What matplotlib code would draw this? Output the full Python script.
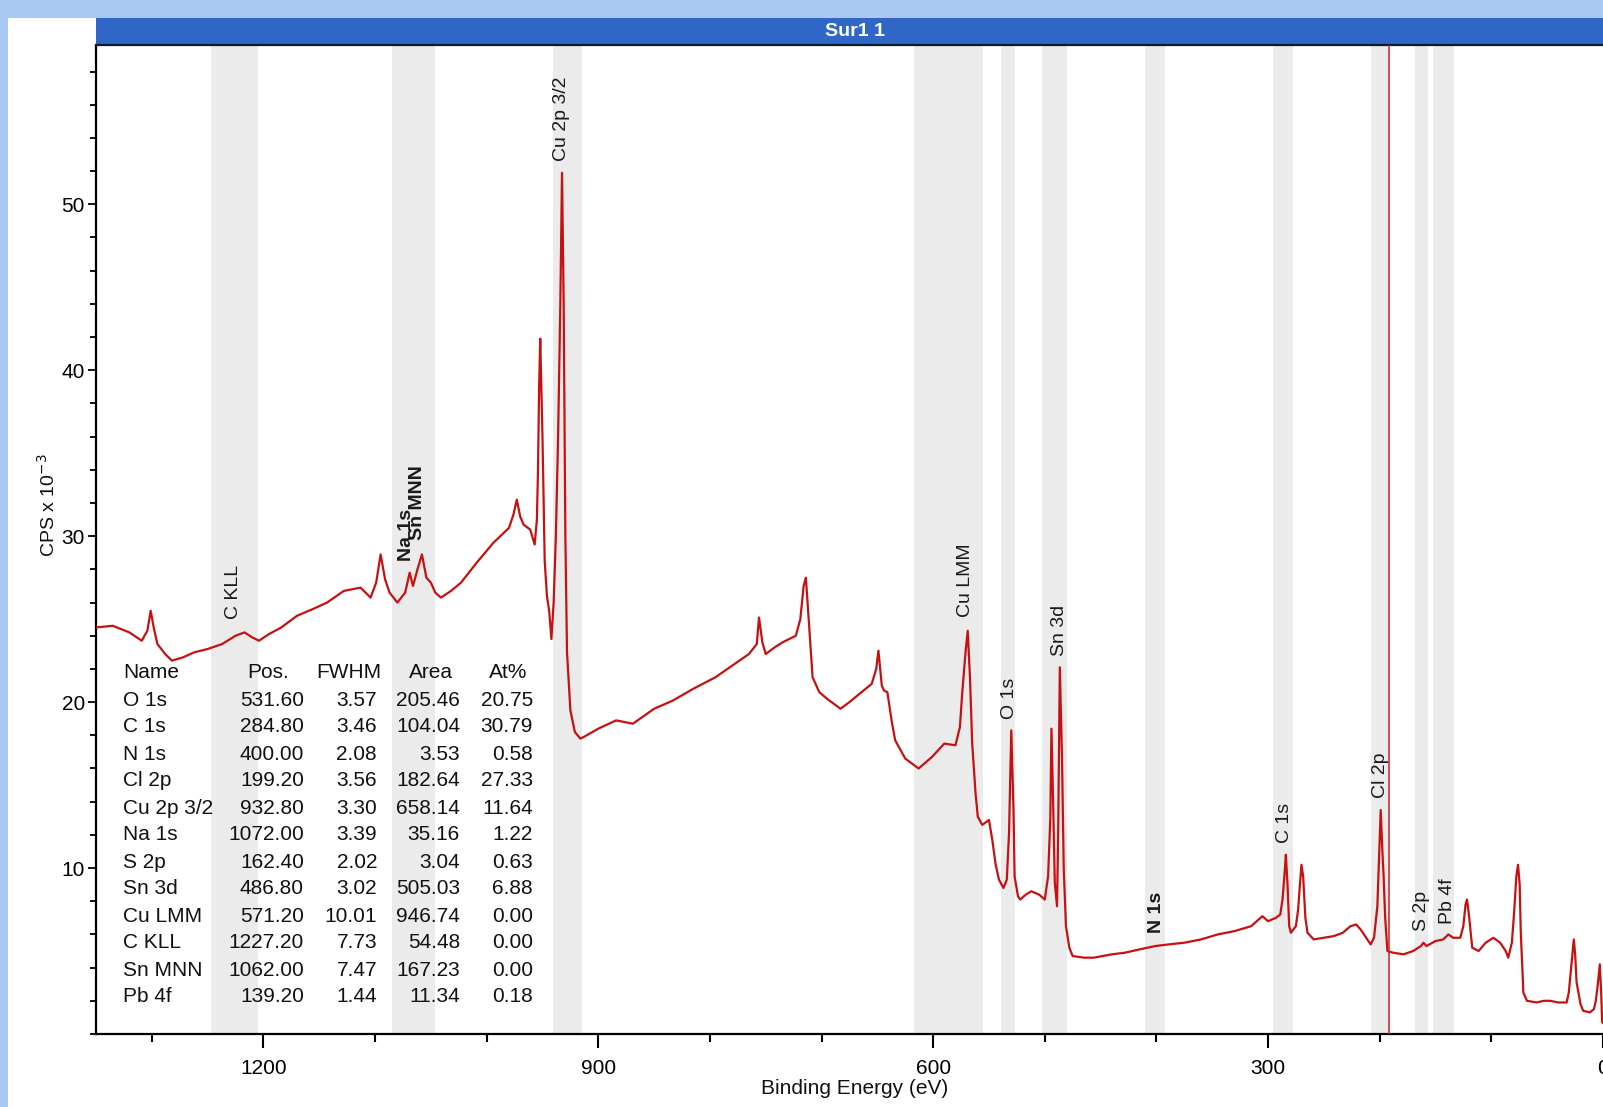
import matplotlib
matplotlib.use("Agg")
import matplotlib.pyplot as plt
from matplotlib.patches import Rectangle
from matplotlib.ticker import MultipleLocator, FixedLocator

# ------------------------------------------------------------
# Data
# ------------------------------------------------------------
be_ev = [1350, 1335, 1320, 1309, 1304, 1301, 1298, 1295, 1288, 1282, 1272, 1262, 1250,
         1237, 1225, 1217, 1210, 1204, 1195, 1184, 1170, 1156, 1143, 1128, 1113, 1104,
         1099, 1095, 1091, 1087, 1080, 1073, 1069, 1066, 1062, 1058, 1054, 1050, 1046,
         1041, 1032, 1023, 1009, 994, 980, 976, 973, 970, 967, 961, 957, 955, 954, 953,
         952, 950, 948, 946, 944, 942, 940, 938, 936, 934, 932.5, 931, 929.5, 928, 925,
         921, 916, 913, 900, 884, 869, 850, 833, 815, 795, 780, 765, 758, 756, 753, 750,
         742, 735, 723, 719, 716, 714, 711, 708, 702, 695, 683, 675, 666, 655, 651, 649,
         646, 644, 641, 637, 634, 625, 613, 601, 590, 580, 576, 574, 571, 569, 567, 565,
         562, 560, 556, 550, 547, 544, 541, 537, 534, 532, 530, 528, 527, 524, 522, 517,
         512, 505, 500, 497, 495, 494, 492.5, 491, 489, 488, 486.5, 484.5, 483, 481, 478,
         475, 465, 456, 440, 428, 415, 401, 389, 375, 360, 345, 330, 315, 305, 300, 293,
         289, 287, 285, 284, 282.5, 281, 279.5, 275, 273, 271.5, 270, 268.5, 266.5, 264.6,
         259, 250, 241, 233, 226, 221, 217, 212, 208, 205, 202, 200, 199, 197.5, 196.4,
         195, 193, 188, 178.6, 170, 163, 160.7, 158, 150, 143, 138.4, 134, 127.7, 125,
         123, 121.7, 120, 117, 111.3, 105, 98, 92, 87, 84.8, 81.5, 79.5, 77.5, 76, 74.5,
         73.5, 71.2, 68, 59.2, 53, 47.3, 40, 32.4, 30.5, 28.8, 26, 24.8, 23.5, 20, 17.6,
         11.6, 8, 6.3, 4.5, 2.7, 1.5, 0.6, -5]
cps_k = [24.5, 24.6, 24.2, 23.7, 24.3, 25.5, 24.4, 23.5, 22.9, 22.5, 22.7, 23.0, 23.2,
         23.5, 24.0, 24.2, 23.9, 23.7, 24.1, 24.5, 25.2, 25.6, 26.0, 26.7, 26.9, 26.3,
         27.2, 28.9, 27.4, 26.6, 26.0, 26.6, 27.8, 27.0, 28.0, 28.9, 27.5, 27.2, 26.6,
         26.3, 26.7, 27.2, 28.4, 29.6, 30.5, 31.3, 32.2, 31.2, 30.7, 30.4, 29.5, 31.0, 34.0,
         39.0, 41.9, 36.0, 28.5, 26.4, 25.5, 23.8, 26.0, 30.0, 36.0, 44.0, 51.9, 44.0, 30.0,
         23.0, 19.5, 18.2, 17.8, 17.9, 18.4, 18.9, 18.7, 19.6, 20.1, 20.8, 21.5, 22.2, 22.9,
         23.5, 25.1, 23.6, 22.9, 23.3, 23.6, 24.0, 25.0, 27.0, 27.5, 24.5, 21.5, 20.6, 20.2,
         19.6, 20.0, 20.5, 21.1, 22.0, 23.1, 21.0, 20.7, 20.6, 18.8, 17.7, 16.6, 16.0, 16.7,
         17.5, 17.4, 18.5, 20.5, 23.0, 24.3, 21.5, 17.5, 14.5, 13.1, 12.6, 12.9, 11.7, 10.2,
         9.3, 8.8, 9.3, 12.1, 18.3, 13.5, 9.5, 8.3, 8.1, 8.4, 8.6, 8.4, 8.1, 9.5, 13.0, 18.4,
         14.0, 9.1, 7.7, 12.0, 22.1, 16.5, 10.0, 6.5, 5.2, 4.7, 4.6, 4.6, 4.8, 4.9, 5.1, 5.3,
         5.4, 5.5, 5.7, 6.0, 6.2, 6.5, 7.1, 6.8, 7.0, 7.2, 8.1, 9.8, 10.8, 9.0, 6.5, 6.1,
         6.5, 7.5, 8.9, 10.2, 9.5, 7.0, 6.1, 5.7, 5.8, 5.9, 6.1, 6.5, 6.6, 6.3, 5.8, 5.4,
         5.8, 7.7, 11.5, 13.5, 11.0, 9.5, 7.0, 5.0, 4.9, 4.8, 5.0, 5.3, 5.5, 5.3, 5.6, 5.7,
         6.0, 5.8, 5.8, 6.5, 7.8, 8.1, 7.2, 5.2, 5.0, 5.5, 5.8, 5.5, 5.0, 4.6, 5.5, 7.3, 9.5,
         10.2, 9.0, 6.1, 2.5, 2.0, 1.9, 2.0, 2.0, 1.9, 1.9, 2.5, 3.7, 5.7, 4.8, 3.1, 1.8, 1.4,
         1.3, 1.5, 2.0, 3.0, 4.2, 2.5, 0.7, 0.4]

# peak labels (position in eV, label base height)
peak_names = ["C KLL", "Na 1s", "Sn MNN", "Cu 2p 3/2", "Cu LMM", "O 1s", "Sn 3d",
              "N 1s", "C 1s", "Cl 2p", "S 2p", "Pb 4f"]
peak_pos = [1227.2, 1072.0, 1062.0, 932.8, 571.2, 531.6, 486.8, 400.0, 284.8, 199.2,
            162.4, 139.2]
peak_label_y = [25.0, 28.5, 29.8, 52.6, 25.1, 19.0, 22.8, 6.1, 11.5, 14.2, 6.2, 6.6]
peak_bold = ["Na 1s", "Sn MNN", "N 1s"]

# integration regions (grey bands)
band_start = [1247, 1085, 940.5, 617, 539, 502.5, 410, 295.5, 207.5, 168, 152.5]
band_end = [1205, 1046, 915, 555, 526.5, 480.5, 392.5, 278, 191, 157, 133]

cursor_ev = 191.5

# quantification table
tbl_name = ["O 1s", "C 1s", "N 1s", "Cl 2p", "Cu 2p 3/2", "Na 1s", "S 2p", "Sn 3d",
            "Cu LMM", "C KLL", "Sn MNN", "Pb 4f"]
tbl_pos = ["531.60", "284.80", "400.00", "199.20", "932.80", "1072.00", "162.40",
           "486.80", "571.20", "1227.20", "1062.00", "139.20"]
tbl_fwhm = ["3.57", "3.46", "2.08", "3.56", "3.30", "3.39", "2.02", "3.02", "10.01",
            "7.73", "7.47", "1.44"]
tbl_area = ["205.46", "104.04", "3.53", "182.64", "658.14", "35.16", "3.04", "505.03",
            "946.74", "54.48", "167.23", "11.34"]
tbl_at = ["20.75", "30.79", "0.58", "27.33", "11.64", "1.22", "0.63", "6.88", "0.00",
          "0.00", "0.00", "0.18"]

# ------------------------------------------------------------
# Style
# ------------------------------------------------------------
NARROW = ["Liberation Sans Narrow", "Liberation Sans", "DejaVu Sans"]
REGULAR = ["Liberation Sans", "DejaVu Sans"]
plt.rcParams["font.family"] = NARROW

W, H = 1603, 1107
fig = plt.figure(figsize=(W / 100, H / 100), dpi=100, facecolor="#a9c8f2")


def fx(px):
    return px / W


def fy(py):
    return 1 - py / H


# white panel (behind everything)
fig.patches.append(Rectangle((fx(8), 0), 1, fy(18), transform=fig.transFigure,
                             facecolor="white", edgecolor="none", zorder=-10))

# plot area runs past the right edge of the picture (cropped screenshot)
AX_W = 1518
ax = fig.add_axes([fx(96), fy(1034), AX_W / W, 989 / H])
ax.set_facecolor("white")
ax.set_zorder(1)

for b0, b1 in zip(band_start, band_end):
    ax.axvspan(b1, b0, color="#ebebeb", lw=0, zorder=1)

ax.plot(be_ev, cps_k, color="#c81010", lw=1.6, zorder=3)
ax.axvline(cursor_ev, color="#d42020", lw=1.1, zorder=4)

for name, x, y in zip(peak_names, peak_pos, peak_label_y):
    ax.text(x, y, name, rotation=90, ha="center", va="bottom", fontsize=14,
            family=REGULAR, color="#1a1a1a",
            fontweight="bold" if name in peak_bold else "normal", zorder=5)

ax.set_xlim(1350, -10)
ax.set_ylim(0, 59.6)

ax.xaxis.set_major_locator(FixedLocator([1200, 900, 600, 300, 0]))
ax.xaxis.set_minor_locator(MultipleLocator(100))
ax.yaxis.set_major_locator(FixedLocator([10, 20, 30, 40, 50]))
ax.yaxis.set_minor_locator(MultipleLocator(2))

ax.tick_params(axis="x", which="major", direction="out", length=10, width=1.5,
               pad=8, labelsize=15)
ax.tick_params(axis="x", which="minor", direction="out", length=6, width=1.5)
ax.tick_params(axis="y", which="major", direction="out", length=6, width=1.3,
               pad=2, labelsize=15)
ax.tick_params(axis="y", which="minor", direction="out", length=4, width=1.3)

for s in ["left", "bottom"]:
    ax.spines[s].set_linewidth(1.6)
ax.spines["right"].set_visible(False)
ax.spines["top"].set_linewidth(1.6)
ax.spines["top"].set_color("#101830")

# title bar
tax = fig.add_axes([fx(96), fy(45), AX_W / W, 27 / H])
tax.set_facecolor("#3066c6")
tax.set_xticks([])
tax.set_yticks([])
for s in tax.spines.values():
    s.set_visible(False)
tax.text(0.5, 0.5, "Sur1 1", color="white", fontsize=14, fontweight="bold",
         ha="center", va="center", transform=tax.transAxes)

# axis labels
fig.text(fx(855), fy(1089), "Binding Energy (eV)", ha="center", va="center",
         fontsize=15, color="#111111")
fig.text(fx(48), fy(505), r"CPS x 10$^{-3}$", rotation=90, ha="center",
         va="center", fontsize=14, color="#111111")

# table (drawn on top of the plot area)
row0 = 673
dy = 27.0
hdr = [("Name", 123, "left"), ("Pos.", 289, "right"), ("FWHM", 381, "right"),
       ("Area", 453, "right"), ("At%", 527, "right")]
for txt, px, ha in hdr:
    fig.text(fx(px), fy(row0), txt, ha=ha, va="center", fontsize=15,
             color="#111111", zorder=5)

cols = [(tbl_name, 123, "left"), (tbl_pos, 304, "right"), (tbl_fwhm, 377, "right"),
        (tbl_area, 460, "right"), (tbl_at, 533, "right")]
for i in range(len(tbl_name)):
    py = row0 + (i + 1) * dy
    for values, px, ha in cols:
        fig.text(fx(px), fy(py), values[i], ha=ha, va="center", fontsize=15,
                 color="#111111", zorder=5)

fig.savefig("out.png", dpi=100, facecolor=fig.get_facecolor())
